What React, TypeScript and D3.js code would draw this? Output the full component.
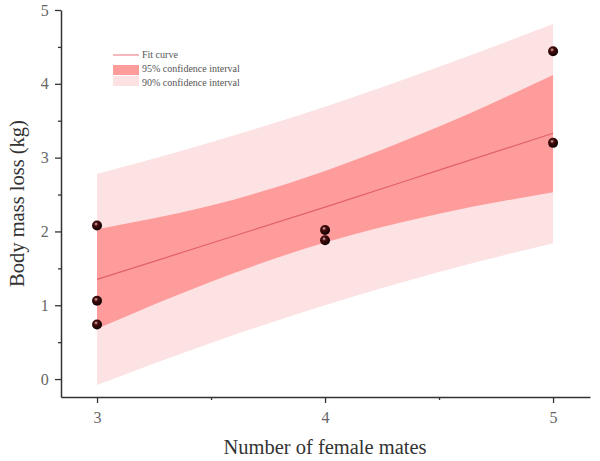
import React, { useEffect, useRef } from "react";
import * as d3 from "d3";

// observations
const obsX = [3, 3, 3, 4, 4, 5, 5];
const obsY = [2.08, 1.06, 0.74, 2.02, 1.88, 4.44, 3.2];

// fit curve and bands, read at these x positions
const bandX = [3, 3.5, 4, 4.5, 5];
const fitY = [1.35, 1.84, 2.33, 2.83, 3.33];
const ci95Upper = [2.03, 2.35, 2.82, 3.42, 4.12];
const ci95Lower = [0.68, 1.32, 1.85, 2.24, 2.53];
const ci90Upper = [2.78, 3.21, 3.69, 4.23, 4.81];
const ci90Lower = [-0.08, 0.49, 1.0, 1.45, 1.84];

const xTicks = [3, 4, 5];
const yTicks = [0, 1, 2, 3, 4, 5];
const legendLabels = ["Fit curve", "95% confidence interval", "90% confidence interval"];

const FONT = "'Liberation Serif', 'DejaVu Serif', serif";

const App: React.FC = () => {
  const ref = useRef<SVGSVGElement>(null);

  useEffect(() => {
    const svg = d3.select(ref.current);
    svg.selectAll("*").remove();

    const left = 61, right = 590, top = 10, bottom = 397;
    const x = d3.scaleLinear().domain([2.842, 5.162]).range([left, right]);
    const y = d3.scaleLinear().domain([-0.243, 5]).range([bottom, top]);

    const defs = svg.append("defs");
    const grad = defs.append("radialGradient")
      .attr("id", "ball")
      .attr("cx", "40%").attr("cy", "35%").attr("r", "65%");
    grad.append("stop").attr("offset", "0%").attr("stop-color", "#e0c0c0");
    grad.append("stop").attr("offset", "30%").attr("stop-color", "#4a0c0c");
    grad.append("stop").attr("offset", "100%").attr("stop-color", "#0e0404");

    const idx = d3.range(bandX.length);

    const area = (hi: number[], lo: number[]) => d3.area<number>()
      .x(i => x(bandX[i]))
      .y0(i => y(lo[i]))
      .y1(i => y(hi[i]))
      .curve(d3.curveMonotoneX)(idx);

    svg.append("path").attr("d", area(ci90Upper, ci90Lower)).attr("fill", "#fde2e3");
    svg.append("path").attr("d", area(ci95Upper, ci95Lower)).attr("fill", "#fe9c9c");

    const line = d3.line<number>()
      .x(i => x(bandX[i]))
      .y(i => y(fitY[i]))
      .curve(d3.curveMonotoneX);
    svg.append("path").attr("d", line(idx)).attr("fill", "none")
      .attr("stroke", "#e0606c").attr("stroke-width", 1.2);

    // axes
    const xAxis = svg.append("g")
      .attr("transform", `translate(0,${bottom})`)
      .call(d3.axisBottom(x).tickValues(xTicks).tickFormat(d3.format("d")).tickSize(6).tickSizeOuter(0));
    svg.append("g")
      .attr("transform", `translate(0,${bottom})`)
      .call(d3.axisBottom(x).tickValues([3.5, 4.5]).tickFormat(() => "").tickSize(3).tickSizeOuter(0))
      .select(".domain").remove();
    const yAxis = svg.append("g")
      .attr("transform", `translate(${left},0)`)
      .call(d3.axisLeft(y).tickValues(yTicks).tickFormat(d3.format("d")).tickSize(6).tickSizeOuter(0));
    svg.append("g")
      .attr("transform", `translate(${left},0)`)
      .call(d3.axisLeft(y).tickValues([0.5, 1.5, 2.5, 3.5, 4.5]).tickFormat(() => "").tickSize(3).tickSizeOuter(0))
      .select(".domain").remove();

    svg.selectAll(".domain").attr("stroke", "#333").attr("stroke-width", 1.5);
    svg.selectAll(".tick line").attr("stroke", "#333").attr("stroke-width", 1.3);
    xAxis.selectAll(".tick text")
      .attr("font-family", FONT).attr("font-size", 16).attr("fill", "#666").attr("dy", "1.05em");
    yAxis.selectAll(".tick text")
      .attr("font-family", FONT).attr("font-size", 16).attr("fill", "#666").attr("dx", "-0.2em");

    // points
    svg.append("g").selectAll("circle")
      .data(d3.range(obsX.length))
      .join("circle")
      .attr("cx", i => x(obsX[i]))
      .attr("cy", i => y(obsY[i]))
      .attr("r", 5)
      .attr("fill", "url(#ball)");

    // labels
    svg.append("text")
      .attr("x", 325).attr("y", 454)
      .attr("text-anchor", "middle")
      .attr("font-family", FONT).attr("font-size", 20.5).attr("fill", "#333")
      .text("Number of female mates");
    svg.append("text")
      .attr("transform", `translate(24,${(top + bottom) / 2}) rotate(-90)`)
      .attr("text-anchor", "middle")
      .attr("font-family", FONT).attr("font-size", 20.5).attr("fill", "#333")
      .text("Body mass loss (kg)");

    // legend
    const lg = svg.append("g");
    lg.append("line").attr("x1", 113).attr("x2", 139).attr("y1", 55).attr("y2", 55)
      .attr("stroke", "#f2a0a6").attr("stroke-width", 1.5);
    lg.append("rect").attr("x", 113).attr("y", 65).attr("width", 26).attr("height", 10).attr("fill", "#fe9c9c");
    lg.append("rect").attr("x", 113).attr("y", 76).attr("width", 26).attr("height", 10).attr("fill", "#fde2e3");
    lg.selectAll("text.lbl")
      .data(legendLabels)
      .join("text")
      .attr("class", "lbl")
      .attr("x", 142)
      .attr("y", (_, i) => 58 + i * 14)
      .attr("font-family", FONT).attr("font-size", 10).attr("fill", "#555")
      .text(d => d);
  }, []);

  return (
    <svg ref={ref} width={600} height={461}
      style={{ position: "absolute", left: 0, top: 0, background: "#fff" }} />
  );
};

export default App;
